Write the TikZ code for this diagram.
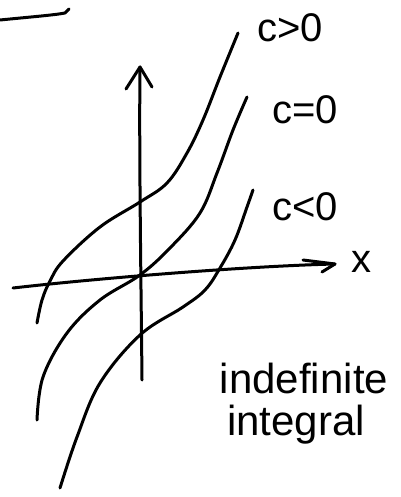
\documentclass[tikz,border=0pt]{standalone}
\usepackage{fontspec}
\setmainfont{Liberation Sans}
\begin{document}
\begin{tikzpicture}[x=1pt,y=-1pt,
  pen/.style={line width=3pt,line cap=round,line join=round},
  lbl/.style={font=\fontsize{40}{44}\selectfont,inner sep=0pt},
  note/.style={font=\fontsize{42}{46}\selectfont,inner sep=0pt}]
\useasboundingbox (0,0) rectangle (400,497);
% top-left stroke
\draw[pen] (0,20) .. controls (30,17) and (55,15) .. (65,13) -- (69,9);
% axes
\coordinate (ybot) at (142,380);
\coordinate (ytop) at (140,67);
\draw[pen] (ybot) .. controls (141,280) and (139,150) .. (ytop);
\draw[pen] (126,89) -- (ytop) -- (152,87);
\coordinate (xl) at (13,288);
\coordinate (xr) at (335,264);
\draw[pen] (xl) .. controls (100,278) and (250,266) .. (xr);
\draw[pen] (303,260) -- (xr) -- (322,272);
% curves
\draw[pen] plot[smooth,tension=0.6] coordinates {(37,323) (42,300) (50,281) (63,261) (100,227) (140,202) (167,183) (187,153) (203,120) (220,77) (238,33)};
\draw[pen] plot[smooth,tension=0.6] coordinates {(37,420) (43,377) (67,333) (100,300) (140,275) (170,248) (200,213) (217,173) (233,130) (247,97)};
\draw[pen] plot[smooth,tension=0.6] coordinates {(60,488) (77,437) (100,383) (140,335) (183,307) (205,290) (220,268) (235,240) (247,207) (253,190)};
% labels
\node[lbl] (cpos) at (290,28) {c>0};
\node[lbl] (czero) at (305,110) {c=0};
\node[lbl] (cneg) at (305,207) {c<0};
\node[lbl] (xlab) at (361,262) {x};
\node[note] (ind) at (304,378) {indefinite};
\node[note] (integ) at (296,425) {integral};
\end{tikzpicture}
\end{document}
